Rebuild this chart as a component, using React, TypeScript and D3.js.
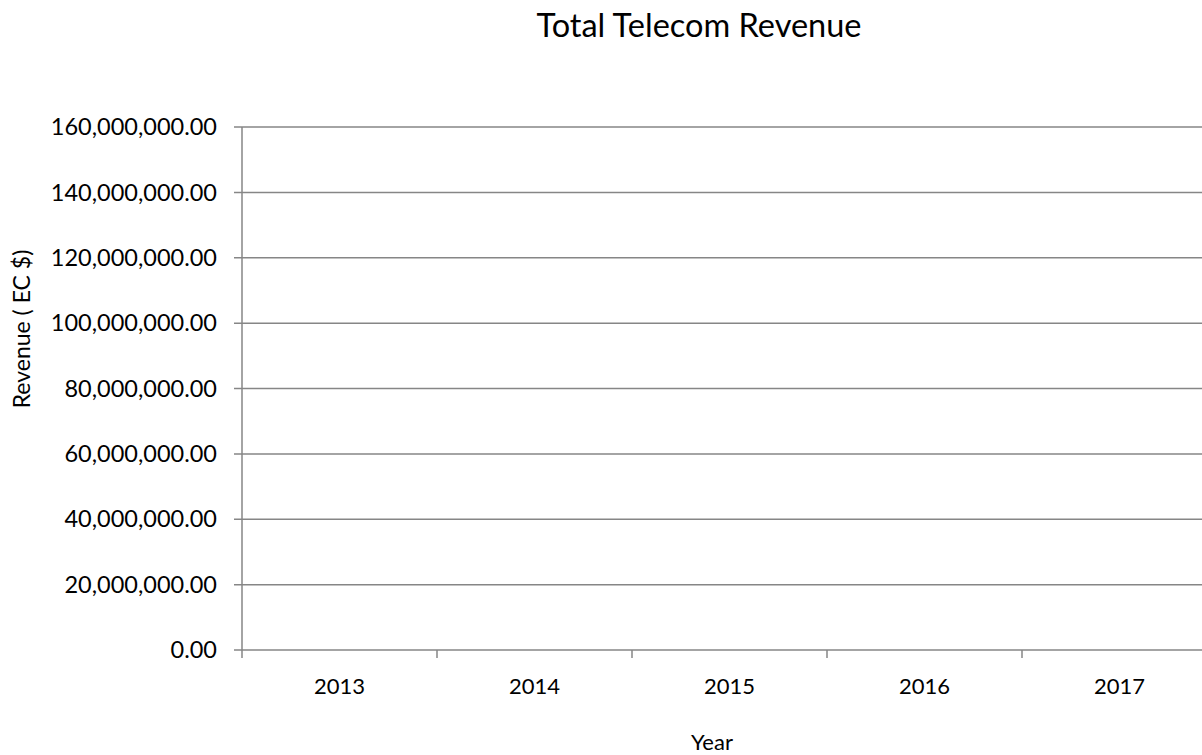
import { useEffect, useRef } from 'react'
import * as d3 from 'd3'

const years = ['2013', '2014', '2015', '2016', '2017']
// no revenue figures are plotted in the source chart
const revenue: (number | null)[] = [null, null, null, null, null]
const yTicks = [0, 20000000, 40000000, 60000000, 80000000, 100000000, 120000000, 140000000, 160000000]

const W = 1202
const H = 755
const FONT = 'Lato, "Open Sans", sans-serif'

export default function App() {
  const svgRef = useRef<SVGSVGElement>(null)

  useEffect(() => {
    if (!svgRef.current) return
    document.body.style.margin = '0'
    const svg = d3.select(svgRef.current)
    svg.selectAll('*').remove()

    const left = 242
    const top = 127
    const bottom = 650
    const band = 195

    const x = d3
      .scaleBand()
      .domain(years)
      .range([left, left + band * years.length])
      .padding(0)

    const y = d3.scaleLinear().domain([0, 160000000]).range([bottom, top])

    const fmt = d3.format(',.2f')
    const grid = '#868686'

    // Title
    svg
      .append('text')
      .attr('x', 699)
      .attr('y', 37)
      .attr('text-anchor', 'middle')
      .attr('font-family', FONT)
      .attr('font-size', '32.5px')
      .attr('fill', '#000')
      .text('Total Telecom Revenue')

    // Grid lines
    svg
      .append('g')
      .selectAll('line')
      .data(yTicks)
      .enter()
      .append('line')
      .attr('x1', left - 8)
      .attr('x2', W)
      .attr('y1', (d) => y(d))
      .attr('y2', (d) => y(d))
      .attr('stroke', grid)
      .attr('stroke-width', 1.5)

    // Y axis line
    svg
      .append('line')
      .attr('x1', left)
      .attr('x2', left)
      .attr('y1', top)
      .attr('y2', bottom + 8)
      .attr('stroke', grid)
      .attr('stroke-width', 1.5)

    // Y tick labels
    svg
      .append('g')
      .selectAll('text')
      .data(yTicks)
      .enter()
      .append('text')
      .attr('x', 217)
      .attr('y', (d) => y(d))
      .attr('dy', '0.35em')
      .attr('text-anchor', 'end')
      .attr('font-family', FONT)
      .attr('font-size', '23.5px')
      .attr('fill', '#000')
      .text((d) => fmt(d))

    // X ticks between categories
    svg
      .append('g')
      .selectAll('line')
      .data(years.slice(1))
      .enter()
      .append('line')
      .attr('x1', (d) => x(d) || 0)
      .attr('x2', (d) => x(d) || 0)
      .attr('y1', bottom)
      .attr('y2', bottom + 8)
      .attr('stroke', grid)
      .attr('stroke-width', 1.5)

    // Bars (empty data)
    svg
      .append('g')
      .selectAll('rect')
      .data(years.map((yr, i) => ({ yr, v: revenue[i] })).filter((d) => d.v != null))
      .enter()
      .append('rect')
      .attr('x', (d) => (x(d.yr) || 0) + x.bandwidth() * 0.2)
      .attr('width', x.bandwidth() * 0.6)
      .attr('y', (d) => y(d.v as number))
      .attr('height', (d) => bottom - y(d.v as number))
      .attr('fill', '#4f81bd')

    // X labels
    svg
      .append('g')
      .selectAll('text')
      .data(years)
      .enter()
      .append('text')
      .attr('x', (d) => (x(d) || 0) + x.bandwidth() / 2)
      .attr('y', 686)
      .attr('dy', '0.35em')
      .attr('text-anchor', 'middle')
      .attr('font-family', FONT)
      .attr('font-size', '22px')
      .attr('fill', '#000')
      .text((d) => d)

    // Axis titles
    svg
      .append('text')
      .attr('x', 712)
      .attr('y', 742)
      .attr('dy', '0.35em')
      .attr('text-anchor', 'middle')
      .attr('font-family', FONT)
      .attr('font-size', '22px')
      .attr('fill', '#000')
      .text('Year')

    svg
      .append('text')
      .attr('transform', `translate(22, 329) rotate(-90)`)
      .attr('dy', '0.35em')
      .attr('text-anchor', 'middle')
      .attr('font-family', FONT)
      .attr('font-size', '23px')
      .attr('fill', '#000')
      .text('Revenue ( EC $)')
  }, [])

  return (
    <svg
      ref={svgRef}
      width={W}
      height={H}
      style={{ display: 'block', background: '#fff' }}
    />
  )
}
